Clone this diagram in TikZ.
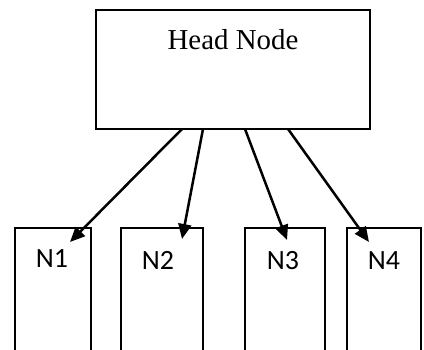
\documentclass[tikz,border=0pt]{standalone}
\usepackage{fontspec}
\setmainfont{Liberation Serif}
\newfontfamily\labelfont{Carlito}
\usetikzlibrary{arrows.meta}
\begin{document}
\begin{tikzpicture}[x=1bp,y=1bp,
  headbox/.style={draw, line width=2.5bp, minimum width=274bp, minimum height=119bp, inner sep=0pt},
  listbox/.style={minimum height=122bp, inner sep=0pt},
  side/.style={line width=2bp},
  link/.style={line width=2.5bp, -{Triangle[length=15bp,width=13bp]}},
  headtext/.style={anchor=base, inner sep=0pt, font=\fontsize{29}{32}\selectfont},
  listtext/.style={anchor=base, inner sep=0pt, font=\labelfont\fontsize{28}{30}\selectfont}]
\useasboundingbox (0,0) rectangle (424,350);

% head node
\node[headbox] (head) at (233,280.5) {};
\node[headtext] (headlabel) at (233,301) {Head Node};

% list nodes, open at the bottom
\node[listbox, minimum width=76bp] (n1) at (53,61) {};
\node[listbox, minimum width=82bp] (n2) at (162,61) {};
\node[listbox, minimum width=80bp] (n3) at (285,61) {};
\node[listbox, minimum width=74bp] (n4) at (384,61) {};
\foreach \n in {n1,n2,n3,n4}
  \draw[side] (\n.south west) -- (\n.north west) -- (\n.north east) -- (\n.south east);

\node[listtext] (l1) at (52,83) {N1};
\node[listtext] (l2) at (158,81) {N2};
\node[listtext] (l3) at (283,81) {N3};
\node[listtext] (l4) at (384,81) {N4};

% links from the head node
\coordinate (s1) at (182,221);
\coordinate (s2) at (203,221);
\coordinate (s3) at (245,221);
\coordinate (s4) at (288,221);
\coordinate (t1) at (70,108);
\coordinate (t2) at (182,111);
\coordinate (t3) at (287,110);
\coordinate (t4) at (369,108);
\draw[link] (s1) -- (t1);
\draw[link] (s2) -- (t2);
\draw[link] (s3) -- (t3);
\draw[link] (s4) -- (t4);
\end{tikzpicture}
\end{document}
